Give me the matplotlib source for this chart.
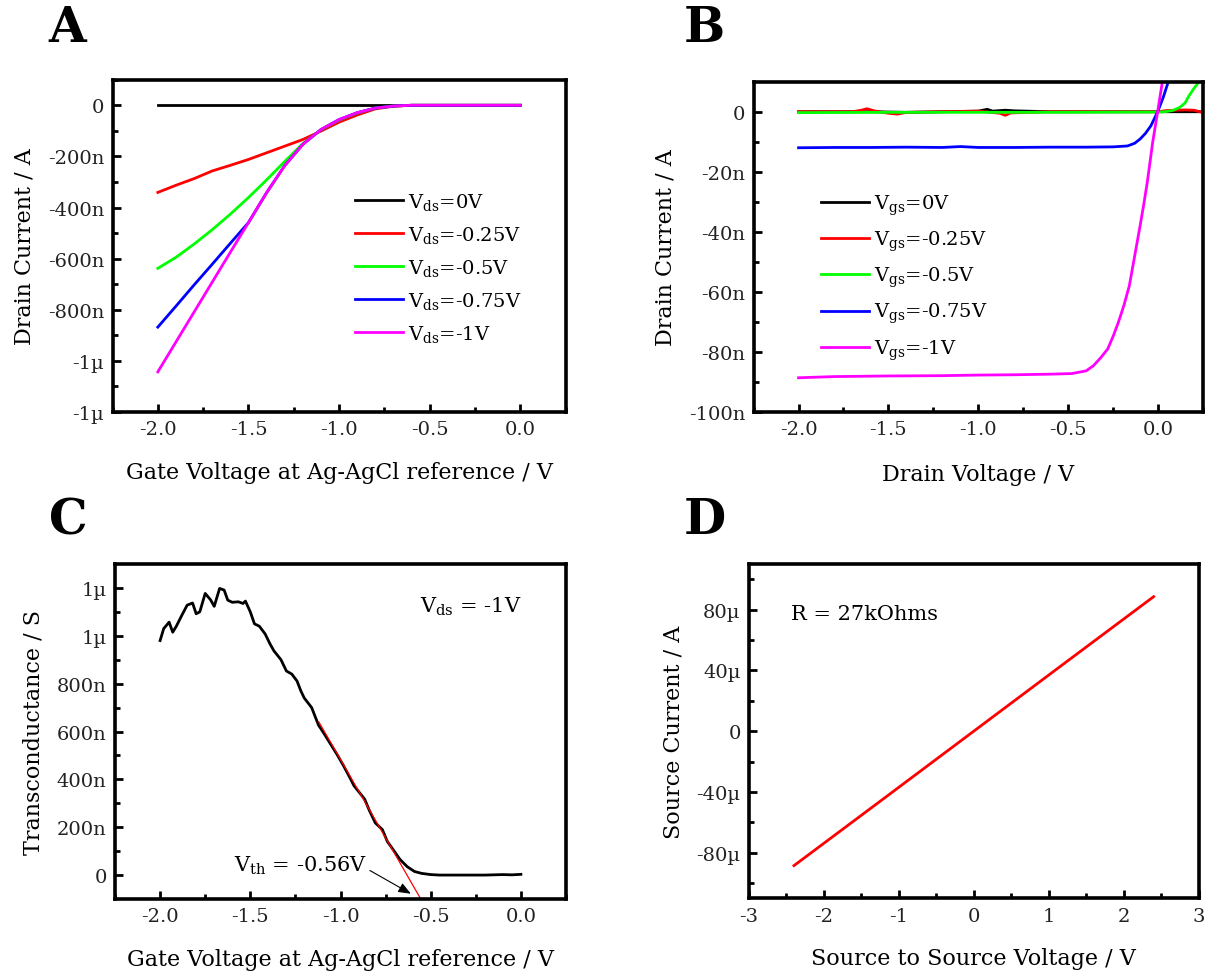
import matplotlib
matplotlib.use("Agg")
import matplotlib.pyplot as plt
from matplotlib.ticker import FixedLocator, MultipleLocator

plt.rcParams['font.family'] = ['DejaVu Serif']
plt.rcParams['mathtext.fontset'] = 'dejavuserif'

# ---------------- data ----------------
# Panel A: transfer curves
vg = [-2.0, -1.9, -1.8, -1.7, -1.6, -1.5, -1.4, -1.3, -1.2, -1.1, -1.0,
      -0.9, -0.8, -0.7, -0.6, -0.5, -0.4, -0.3, -0.2, -0.1, 0.0]
id_vds0 = [0] * 21
id_vds025 = [-341, -313, -287, -257, -235, -212, -186, -160, -134, -101, -66,
             -38, -14, -4, 0, 0, 0, 0, 0, 0, 0]
id_vds05 = [-638, -595, -543, -487, -426, -361, -292, -220, -150, -96, -58,
            -30, -11, -3, 0, 0, 0, 0, 0, 0, 0]
id_vds075 = [-868, -786, -703, -622, -540, -459, -342, -236, -153, -95, -56,
             -29, -11, -3, 0, 0, 0, 0, 0, 0, 0]
id_vds1 = [-1043, -926, -809, -692, -575, -459, -342, -236, -153, -95, -56,
           -29, -11, -3, 0, 0, 0, 0, 0, 0, 0]
legend_a = [r'V$_{\mathrm{ds}}$=0V', r'V$_{\mathrm{ds}}$=-0.25V', r'V$_{\mathrm{ds}}$=-0.5V',
            r'V$_{\mathrm{ds}}$=-0.75V', r'V$_{\mathrm{ds}}$=-1V']

# Panel B: output curves
vd_black = [-2.0, -1.8, -1.6, -1.4, -1.2, -1.0, -0.95, -0.92, -0.85, -0.8, -0.6, -0.4, -0.2, 0.0, 0.1, 0.2, 0.25]
id_black = [0, 0, 0, -0.2, 0, 0.2, 0.8, 0.2, 0.5, 0.3, 0, 0, 0, 0, 0, 0, 0]
vd_red = [-2.0, -1.7, -1.65, -1.62, -1.58, -1.5, -1.45, -1.4, -1.2, -1.0, -0.88, -0.85,
          -0.82, -0.6, -0.3, 0.0, 0.05, 0.15, 0.2, 0.25]
id_red = [0, 0, 0.5, 1.0, 0.3, -0.5, -0.8, -0.2, 0, 0.2, -0.5, -1.2, -0.4, 0, 0, 0,
          0.4, 0.6, 0.5, -0.3]
vd_green = [-2.0, -1.5, -1.0, -0.5, 0.0, 0.04, 0.08, 0.12, 0.15, 0.172, 0.2, 0.228]
id_green = [-0.3, -0.2, -0.2, -0.2, -0.1, 0.0, 0.4, 1.4, 2.9, 5.3, 7.8, 10.0]
vd_blue = [-2.0, -1.8, -1.6, -1.4, -1.2, -1.1, -1.0, -0.8, -0.6, -0.4, -0.25, -0.17,
           -0.13, -0.10, -0.07, -0.04, 0.0, 0.03, 0.057]
id_blue = [-12.0, -11.9, -11.9, -11.8, -11.9, -11.6, -11.9, -11.9, -11.8, -11.8, -11.7,
           -11.4, -10.5, -9.1, -7.2, -4.7, 0.3, 5.0, 10.0]
vd_mag = [-2.0, -1.8, -1.5, -1.2, -1.0, -0.8, -0.6, -0.48, -0.40, -0.36, -0.32, -0.28,
          -0.25, -0.22, -0.19, -0.16, -0.13, -0.10, -0.08, -0.06, -0.03, 0.0, 0.024]
id_mag = [-88.6, -88.2, -88.0, -87.9, -87.7, -87.6, -87.4, -87.2, -86.3, -84.6, -82.0,
          -79.0, -74.8, -70.0, -64.5, -58.0, -48.0, -38.0, -31.0, -23.5, -10.2, 0.9, 10.0]
legend_b = [r'V$_{\mathrm{gs}}$=0V', r'V$_{\mathrm{gs}}$=-0.25V', r'V$_{\mathrm{gs}}$=-0.5V',
            r'V$_{\mathrm{gs}}$=-0.75V', r'V$_{\mathrm{gs}}$=-1V']

# Panel C: transconductance (nS)
gm_x = [-2.00, -1.98, -1.95, -1.93, -1.91, -1.88, -1.85, -1.82, -1.80, -1.78, -1.75,
        -1.72, -1.70, -1.67, -1.645, -1.625, -1.60, -1.566, -1.54, -1.527, -1.50, -1.477,
        -1.45, -1.418, -1.39, -1.369, -1.33, -1.30, -1.27, -1.241, -1.22, -1.201, -1.16,
        -1.122, -1.09, -1.063, -1.02, -0.984, -0.95, -0.925, -0.89, -0.866, -0.84,
        -0.807, -0.768, -0.74, -0.708, -0.67, -0.63, -0.59, -0.55, -0.50, -0.45, -0.40,
        -0.30, -0.20, -0.10, -0.05, 0.0]
gm_y = [980, 1030, 1057, 1015, 1040, 1085, 1128, 1137, 1092, 1100, 1177,
        1150, 1123, 1198, 1191, 1149, 1140, 1142, 1135, 1145, 1100, 1050,
        1040, 1008, 965, 937, 900, 853, 840, 811, 770, 740, 700,
        627, 590, 557, 505, 458, 410, 373, 340, 317, 270,
        218, 190, 140, 106, 65, 35, 15, 7, 2, 0, 0,
        0, 0, 2, 1, 3]
fit_x = [-1.12, -0.555]
fit_y = [640, -100]

# Panel D: source-source IV (uA)
vss = [-2.4, -1.2, 0.0, 1.2, 2.4]
iss = [-88.5, -44.3, 0.0, 44.3, 88.5]

# ---------------- figure ----------------
W, H = 1205, 978
fig = plt.figure(figsize=(W / 100, H / 100), dpi=100)


def rect(l, r, t, b):
    return [l / W, (H - b) / H, (r - l) / W, (b - t) / H]


axA = fig.add_axes(rect(112.5, 565.7, 80.7, 413))
axB = fig.add_axes(rect(753.6, 1203, 82.7, 413))
axC = fig.add_axes(rect(115, 566, 565, 900))
axD = fig.add_axes(rect(749, 1198.6, 565, 899.3))

TICKFS = 14
LABFS = 16


def style(ax):
    for s in ax.spines.values():
        s.set_linewidth(2.6)
    ax.tick_params(which='both', direction='in', top=False, right=False,
                   labelsize=TICKFS, pad=6, colors='black')
    ax.tick_params(which='major', length=6, width=2)
    ax.tick_params(which='minor', length=3.5, width=2)
    for lab in ax.get_xticklabels() + ax.get_yticklabels():
        lab.set_color('#222222')


colors = ['#000000', '#ff0000', '#00ff00', '#0000ff', '#ff00ff']

# ---- A ----
for ys, c, lab in zip([id_vds0, id_vds025, id_vds05, id_vds075, id_vds1], colors, legend_a):
    axA.plot(vg, [v * 1e-9 for v in ys], color=c, lw=2.0, label=lab)
axA.set_xlim(-2.25, 0.25)
axA.set_ylim(-1.2e-6, 1e-7)
axA.set_xticks([-2.0, -1.5, -1.0, -0.5, 0.0])
axA.set_xticklabels(['-2.0', '-1.5', '-1.0', '-0.5', '0.0'])
axA.xaxis.set_minor_locator(MultipleLocator(0.25))
axA.set_yticks([-1.2e-6, -1e-6, -8e-7, -6e-7, -4e-7, -2e-7, 0])
axA.set_yticklabels(['-1µ', '-1µ', '-800n', '-600n', '-400n', '-200n', '0'])
axA.yaxis.set_minor_locator(FixedLocator([-1.1e-6, -9e-7, -7e-7, -5e-7, -3e-7, -1e-7, 1e-7]))
axA.set_xlabel('Gate Voltage at Ag-AgCl reference / V', fontsize=LABFS, labelpad=16)
axA.set_ylabel('Drain Current / A', fontsize=LABFS, labelpad=9)
axA.legend(loc='upper left', bbox_to_anchor=(0.535, 0.665), frameon=False,
           handlelength=2.45, handletextpad=0.3, labelspacing=0.62, borderpad=0,
           borderaxespad=0, fontsize=14)
style(axA)

# ---- B ----
for xs, ys, c, lab in zip([vd_black, vd_red, vd_green, vd_blue, vd_mag],
                          [id_black, id_red, id_green, id_blue, id_mag], colors, legend_b):
    axB.plot(xs, [v * 1e-9 for v in ys], color=c, lw=2.0, label=lab)
axB.set_xlim(-2.25, 0.25)
axB.set_ylim(-1e-7, 1e-8)
axB.set_xticks([-2.0, -1.5, -1.0, -0.5, 0.0])
axB.set_xticklabels(['-2.0', '-1.5', '-1.0', '-0.5', '0.0'])
axB.xaxis.set_minor_locator(MultipleLocator(0.25))
axB.set_yticks([-1e-7, -8e-8, -6e-8, -4e-8, -2e-8, 0])
axB.set_yticklabels(['-100n', '-80n', '-60n', '-40n', '-20n', '0'])
axB.yaxis.set_minor_locator(FixedLocator([-9e-8, -7e-8, -5e-8, -3e-8, -1e-8]))
axB.set_xlabel('Drain Voltage / V', fontsize=LABFS, labelpad=18)
axB.set_ylabel('Drain Current / A', fontsize=LABFS, labelpad=9)
axB.legend(loc='upper left', bbox_to_anchor=(0.15, 0.665), frameon=False,
           handlelength=2.45, handletextpad=0.3, labelspacing=0.62, borderpad=0,
           borderaxespad=0, fontsize=14)
style(axB)

# ---- C ----
axC.plot(gm_x, [v * 1e-9 for v in gm_y], color='black', lw=2.0)
axC.plot(fit_x, [v * 1e-9 for v in fit_y], color='#ff0000', lw=0.9)
axC.set_xlim(-2.25, 0.25)
axC.set_ylim(-1e-7, 1.3e-6)
axC.set_xticks([-2.0, -1.5, -1.0, -0.5, 0.0])
axC.set_xticklabels(['-2.0', '-1.5', '-1.0', '-0.5', '0.0'])
axC.xaxis.set_minor_locator(MultipleLocator(0.25))
axC.set_yticks([0, 2e-7, 4e-7, 6e-7, 8e-7, 1e-6, 1.2e-6])
axC.set_yticklabels(['0', '200n', '400n', '600n', '800n', '1µ', '1µ'])
axC.yaxis.set_minor_locator(FixedLocator([1e-7, 3e-7, 5e-7, 7e-7, 9e-7, 1.1e-6]))
axC.set_xlabel('Gate Voltage at Ag-AgCl reference / V', fontsize=LABFS, labelpad=16)
axC.set_ylabel('Transconductance / S', fontsize=LABFS, labelpad=9)
axC.text(-0.56, 1.1e-6, r'V$_{\mathrm{ds}}$ = -1V', fontsize=15, va='baseline', ha='left')
axC.annotate(r'V$_{\mathrm{th}}$ = -0.56V', xy=(-0.61, -7.8e-8), xytext=(-1.59, 2e-8),
             fontsize=15, va='baseline', ha='left',
             arrowprops=dict(arrowstyle='-|>,head_length=0.5,head_width=0.2', color='black',
                             lw=0.8, shrinkA=0, shrinkB=0,
                             relpos=(1.0, 0.3)))
style(axC)

# ---- D ----
axD.plot(vss, [v * 1e-6 for v in iss], color='#ff0000', lw=2.0)
axD.set_xlim(-3, 3)
axD.set_ylim(-1.1e-4, 1.1e-4)
axD.set_xticks([-3, -2, -1, 0, 1, 2, 3])
axD.set_xticklabels(['-3', '-2', '-1', '0', '1', '2', '3'])
axD.xaxis.set_minor_locator(MultipleLocator(0.5))
axD.set_yticks([-8e-5, -4e-5, 0, 4e-5, 8e-5])
axD.set_yticklabels(['-80µ', '-40µ', '0', '40µ', '80µ'])
axD.yaxis.set_minor_locator(FixedLocator([-1e-4, -6e-5, -2e-5, 2e-5, 6e-5, 1e-4]))
axD.set_xlabel('Source to Source Voltage / V', fontsize=LABFS, labelpad=16)
axD.set_ylabel('Source Current / A', fontsize=LABFS, labelpad=9)
axD.text(-2.44, 7.75e-5, 'R = 27kOhms', fontsize=15, va='center', ha='left')
style(axD)

# panel letters
for letter, (px, py) in zip('ABCD', [(67, 29), (704, 29), (68, 521), (705, 521)]):
    fig.text(px / W, 1 - py / H, letter, fontsize=35, fontweight='heavy',
             family='DejaVu Serif', ha='center', va='center')

fig.savefig('out.png', dpi=100)
